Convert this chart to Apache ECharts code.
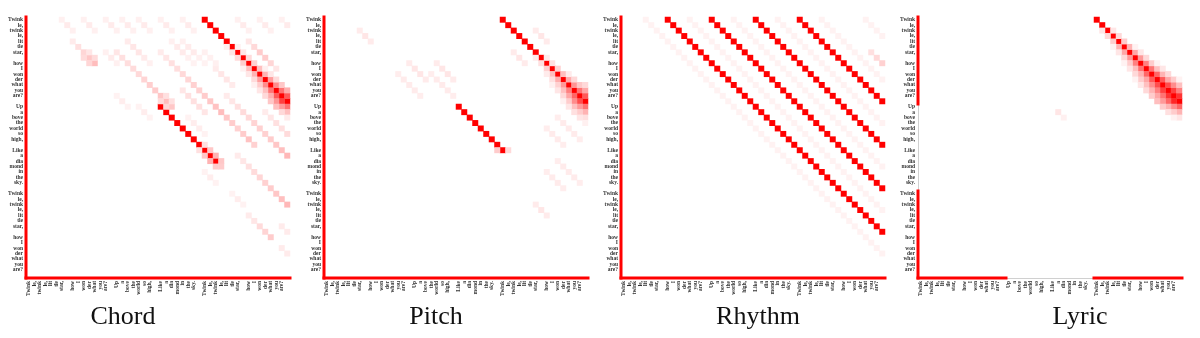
<!DOCTYPE html>
<html><head><meta charset="utf-8">
<script src="https://cdn.jsdelivr.net/npm/echarts@6/dist/echarts.min.js"></script>
<style>html,body{margin:0;padding:0;background:#fff}#c{width:1200px;height:338px}</style>
</head><body><div id="c"></div>
<script>
// token labels (rows = query token, cols = key token)
const tokens = ["Twink","le,","twink","le,","lit","tle","star,","",
  "how","I","won","der","what","you","are?","",
  "Up","a","bove","the","world","so","high,","",
  "Like","a","dia","mond","in","the","sky.","",
  "Twink","le,","twink","le,","lit","tle","star,","",
  "how","I","won","der","what","you","are?",""];
const panelNames = ["Chord","Pitch","Rhythm","Lyric"];

// diagonal runs: [startRow, startCol, attention values along the diagonal]
const chordRuns = [
  [0,32,[1,1,1,1,1,1,1,1,1,1,1,1,1,1,1,1]],
  [5,36,[.06,.1,.14,.2,.25,.3,.38,.45,.55,.65,.75,.55]],
  [5,38,[.06,.1,.14,.18,.25,.3,.38,.45,.55,.65]],
  [9,39,[.06,.1,.14,.2,.25,.32,.42,.4,.25]],
  [9,43,[.06,.1,.14,.22,.32]],
  [12,41,[.06,.1,.15,.22,.25,.15,.08]],
  [4,40,[.1,.15,.2,.2,.16,.1]],
  [16,24,[1,1,1,1,1,1,1,1,1,1,1]],
  [24,31,[.12,.22,.3,.2]],
  [23,32,[.12,.22,.3,.22]],
  [27,35,[.2]],
  [4,8,[.08,.12,.16,.22,.26]],
  [7,10,[.14,.16]],
  [6,11,[.1,.14]],
  [0,6,[.06,.08,.06]],[0,10,[.06,.08,.06]],[0,14,[.06,.08,.06]],[0,17,[.06,.08,.06]],
  [0,20,[.06,.08,.06]],[0,24,[.06,.08,.06]],[0,28,[.06,.08,.06]],[0,38,[.06,.08,.06]],
  [0,42,[.06,.08,.06]],[0,46,[.06,.08]],
  [6,16,[.1,.12,.13,.14,.15,.17,.19,.2,.22,.26,.22]],
  [15,24,[.14,.16]],
  [14,25,[.12,.12]],
  [6,24,[.08,.1,.12,.13,.15,.16,.18,.18,.2,.22,.24,.26,.22,.2,.18,.2,.24,.18]],
  [13,28,[.1,.12,.12,.12,.1]],
  [14,36,[.08,.1,.12,.14,.15,.17,.18,.18,.2,.22,.25,.28]],
  [17,43,[.08,.1,.12,.12,.14]],
  [25,38,[.08,.1,.12,.14,.16,.18,.2,.22,.25,.28]],
  [36,40,[.08,.1,.14,.17,.2]],
  [38,46,[.08,.08]],[42,46,[.08,.08]],
  [28,32,[.05,.07,.05]],[32,37,[.05,.07,.05]],
  [4,28,[.06,.08,.08,.06,.05]],[9,34,[.08,.1,.1,.08]],[6,32,[.06,.06,.06]],
  [14,16,[.05,.07,.05]],[16,20,[.05,.07,.05]],[18,29,[.05,.07,.07,.05]],
  [4,18,[.08,.1,.1,.08,.06]],[6,14,[.06,.08,.06]],[4,26,[.06,.08,.08,.06,.05]]
];
const pitchRuns = [
  [0,32,[1,1,1,1,1,1,1,1,1,1,1,1,1,1,1,1]],
  [7,38,[.08,.12,.18,.25,.32,.4,.5,.6,.7,.55]],
  [7,40,[.08,.12,.18,.25,.32,.42,.55,.65]],
  [10,40,[.08,.12,.18,.25,.35,.45,.4,.3]],
  [10,44,[.08,.15,.22,.35]],
  [12,41,[.06,.1,.15,.2,.25,.2,.12]],
  [12,47,[.15]],
  [15,43,[.06,.1,.12,.1,.06]],
  [16,24,[1,1,1,1,1,1,1,1,1]],
  [24,31,[.2]],[24,33,[.15]],
  [2,6,[.08,.1,.08]],
  [8,15,[.08,.1,.1,.08]],
  [10,13,[.07,.08,.08,.08,.07]],
  [8,20,[.08,.1,.1,.08]],
  [10,19,[.07,.08,.08,.08,.07]],
  [2,38,[.08,.1,.08]],
  [6,34,[.08,.1,.08]],
  [18,42,[.07,.08,.08,.08,.07]],
  [20,40,[.07,.08,.08,.07]],
  [26,42,[.07,.08,.08,.08,.07]],
  [28,40,[.07,.08,.08,.07]],
  [34,38,[.08,.1,.08]]
];
const rhythmRuns = [
  [0,8,[1,1,1,1,1,1,1,1,1,1,1,1,1,1,1,1,1,1,1,1,1,1,1,1,1,1,1,1,1,1,1,1,1,1,1,1,1,1,1,1]],
  [0,16,[1,1,1,1,1,1,1,1,1,1,1,1,1,1,1,1,1,1,1,1,1,1,1,1,1,1,1,1,1,1,1,1]],
  [0,24,[1,1,1,1,1,1,1,1,1,1,1,1,1,1,1,1,1,1,1,1,1,1,1,1]],
  [0,32,[1,1,1,1,1,1,1,1,1,1,1,1,1,1,1,1]],
  [0,4,[.05,.05,.05,.05,.05,.05,.05,.05,.05,.05,.05,.05,.05,.05,.05,.05,.05,.05,.05,.05,.05,.05,.05,.05,.05,.05,.05,.05,.05,.05,.05,.05,.05,.05,.05,.05,.05,.05,.05,.05,.05,.05,.05,.05]],
  [0,12,[.05,.05,.05,.05,.05,.05,.05,.05,.05,.05,.05,.05,.05,.05,.05,.05,.05,.05,.05,.05,.05,.05,.05,.05,.05,.05,.05,.05,.05,.05,.05,.05,.05,.05,.05,.05]],
  [0,20,[.05,.05,.05,.05,.05,.05,.05,.05,.05,.05,.05,.05,.05,.05,.05,.05,.05,.05,.05,.05,.05,.05,.05,.05,.05,.05,.05,.05]],
  [0,28,[.05,.05,.05,.05,.05,.05,.05,.05,.05,.05,.05,.05,.05,.05,.05,.05,.05,.05,.05,.05]],
  [0,36,[.05,.05,.05,.05,.05,.05,.05,.05,.05,.05,.05,.05]],
  [0,44,[.05,.05,.05,.05]],
  [6,45,[.12,.15,.18]]
];
const lyricRuns = [
  [0,32,[1,1,1,1,1,1,1,1,1,1,1,1,1,1,1,1]],
  [2,33,[.1,.15,.2,.3,.35,.4,.5,.55,.6,.65,.7,.75,.8,.85,.6]],
  [2,35,[.1,.15,.2,.3,.35,.4,.5,.55,.6,.65,.7,.75,.8]],
  [5,35,[.05,.1,.15,.2,.25,.3,.35,.45,.5,.55,.6,.45,.3]],
  [5,39,[.05,.1,.15,.2,.25,.3,.35,.45,.5]],
  [8,37,[.05,.1,.15,.2,.25,.3,.35,.4,.3,.2,.1]],
  [8,43,[.05,.1,.15,.2,.25]],
  [11,39,[.05,.1,.15,.2,.25,.2,.12,.05]],
  [11,47,[.05]],
  [17,25,[.1,.06]]
];
const chordMask = [[0,48]];
const pitchMask = [[0,48]];
const rhythmMask = [[0,48]];
const lyricMask = [[0,16],[32,48]];

const allRuns = [chordRuns, pitchRuns, rhythmRuns, lyricRuns];
const allMasks = [chordMask, pitchMask, rhythmMask, lyricMask];
const gridLefts = [26, 324, 621, 918];
const titleX = [123, 436, 758, 1080];

function toCells(runs){
  const m = new Map();
  runs.forEach(([r0,c0,vals]) => vals.forEach((v,k) => {
    const r = r0 + k, c = c0 + k;
    if (r > 47 || c > 47) return;
    const key = r * 48 + c;
    m.set(key, Math.max(m.get(key) || 0, v));
  }));
  return [...m].map(([key, v]) => [key % 48, Math.floor(key / 48), v]);
}

const lblFont = {fontSize: 5.5, fontFamily: 'Liberation Serif', fontWeight: 'bold', color: '#333'};
const grids = [], xAxes = [], yAxes = [], series = [];
panelNames.forEach((name, p) => {
  grids.push({left: gridLefts[p], top: 17, width: 264, height: 261});
  xAxes.push({type:'category', gridIndex:p, data:tokens, position:'bottom',
    axisLine:{show:true, onZero:false, lineStyle:{color:'#d0d0d0', width:1}}, axisTick:{show:false},
    splitLine:{show:false},
    axisLabel:Object.assign({interval:0, rotate:90, margin:3, hideOverlap:false}, lblFont)});
  xAxes.push({type:'value', gridIndex:p, min:0, max:48, show:false});
  yAxes.push({type:'category', gridIndex:p, data:tokens, inverse:true, position:'left',
    axisLine:{show:true, onZero:false, lineStyle:{color:'#d0d0d0', width:1}}, axisTick:{show:false},
    splitLine:{show:false},
    axisLabel:Object.assign({interval:0, margin:3, hideOverlap:false}, lblFont)});
  yAxes.push({type:'value', gridIndex:p, min:0, max:48, inverse:true, show:false});
});
panelNames.forEach((name, p) => {
  series.push({type:'heatmap', xAxisIndex:2*p, yAxisIndex:2*p, data:toCells(allRuns[p]),
    progressive:0, emphasis:{disabled:true}, silent:true});
});
panelNames.forEach((name, p) => {
  allMasks[p].forEach(([a,b]) => {
    const ls = {color:'#ff0000', width:3, cap:'square'};
    series.push({type:'line', xAxisIndex:2*p+1, yAxisIndex:2*p+1, data:[[a,48],[b,48]],
      symbol:'none', lineStyle:ls, clip:false, silent:true, z:5});
    series.push({type:'line', xAxisIndex:2*p+1, yAxisIndex:2*p+1, data:[[0,a],[0,b]],
      symbol:'none', lineStyle:ls, clip:false, silent:true, z:5});
  });
});

const chart = echarts.init(document.getElementById('c'), null, {renderer:'canvas'});
chart.setOption({
  animation:false,
  backgroundColor:'#ffffff',
  grid:grids, xAxis:xAxes, yAxis:yAxes,
  visualMap:{type:'continuous', show:false, min:0, max:1, seriesIndex:[0,1,2,3],
    inRange:{color:['#ffffff','#ff0000']}},
  graphic: panelNames.map((n,p) => ({type:'text', x:titleX[p], y:317,
    style:{text:n, textAlign:'center', textVerticalAlign:'middle',
      font:'26px "Liberation Serif"', fill:'#111'}})),
  series:series
});
</script></body></html>
